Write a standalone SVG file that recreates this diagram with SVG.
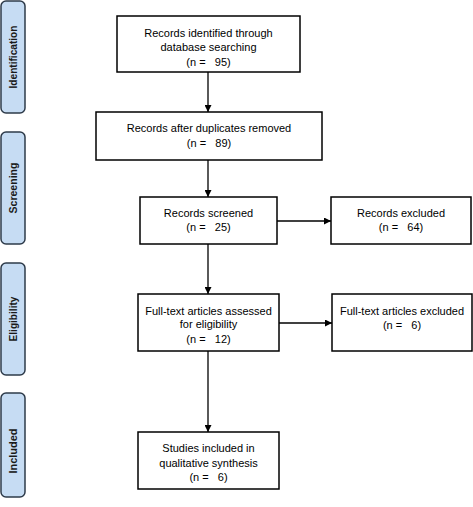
<svg xmlns="http://www.w3.org/2000/svg" width="473" height="507" viewBox="0 0 473 507">
<style>
.box{fill:#fff;stroke:#000;stroke-width:1.5}
.side{fill:#c6dcf3;stroke:#2e3b4a;stroke-width:1.5}
.t{font-family:"Liberation Sans",Arial,sans-serif;font-size:11px;fill:#000;text-anchor:middle}
.s{font-family:"Liberation Sans",Arial,sans-serif;font-size:10.5px;font-weight:bold;fill:#1a1a1a;text-anchor:middle}
.c{stroke:#000;stroke-width:1.3;fill:none;marker-end:url(#ah)}
</style>
<defs>
<marker id="ah" viewBox="0 0 10 10" refX="10" refY="5" markerWidth="7" markerHeight="7" markerUnits="userSpaceOnUse" orient="auto">
<path d="M0,0 L10,5 L0,10 z" fill="#000"/>
</marker>
</defs>
<rect width="473" height="507" fill="#fff"/>
<g id="side-identification"><rect class="side" x="1" y="1" width="24" height="112" rx="5"/><text class="s" transform="translate(17,57) rotate(-90)" textLength="63" lengthAdjust="spacingAndGlyphs">Identification</text></g>
<g id="side-screening"><rect class="side" x="1" y="132" width="24" height="112" rx="5"/><text class="s" transform="translate(17,188) rotate(-90)" textLength="51" lengthAdjust="spacingAndGlyphs">Screening</text></g>
<g id="side-eligibility"><rect class="side" x="1" y="263" width="24" height="112" rx="5"/><text class="s" transform="translate(17,319) rotate(-90)" textLength="45" lengthAdjust="spacingAndGlyphs">Eligibility</text></g>
<g id="side-included"><rect class="side" x="1" y="393" width="24" height="104" rx="5"/><text class="s" transform="translate(17,451) rotate(-90)" textLength="45" lengthAdjust="spacingAndGlyphs">Included</text></g>
<g id="connectors">
<line class="c" x1="208" y1="72" x2="208" y2="112"/>
<line class="c" x1="208" y1="160" x2="208" y2="197"/>
<line class="c" x1="277" y1="221" x2="331" y2="221"/>
<line class="c" x1="208" y1="244" x2="208" y2="294"/>
<line class="c" x1="279" y1="323" x2="332" y2="323"/>
<line class="c" x1="208" y1="351" x2="208" y2="432"/>
</g>
<g id="n1"><rect class="box" x="117" y="16" width="183" height="56"/><text class="t" x="208.5" y="37">Records identified through</text><text class="t" x="208.5" y="51">database searching</text><text class="t" x="208.5" y="66" xml:space="preserve">(n =   95)</text></g>
<g id="n2"><rect class="box" x="96" y="112" width="226" height="48"/><text class="t" x="209" y="132">Records after duplicates removed</text><text class="t" x="209" y="147" xml:space="preserve">(n =   89)</text></g>
<g id="n3"><rect class="box" x="140" y="197" width="137" height="47"/><text class="t" x="208.5" y="217">Records screened</text><text class="t" x="208.5" y="231" xml:space="preserve">(n =   25)</text></g>
<g id="n4"><rect class="box" x="331" y="197" width="140" height="47"/><text class="t" x="401" y="217">Records excluded</text><text class="t" x="401" y="231" xml:space="preserve">(n =   64)</text></g>
<g id="n5"><rect class="box" x="138" y="294" width="141" height="57"/><text class="t" x="208.5" y="315">Full-text articles assessed</text><text class="t" x="208.5" y="328">for eligibility</text><text class="t" x="208.5" y="343" xml:space="preserve">(n =   12)</text></g>
<g id="n6"><rect class="box" x="332" y="294" width="140" height="57"/><text class="t" x="402" y="315">Full-text articles excluded</text><text class="t" x="402" y="329" xml:space="preserve">(n =   6)</text></g>
<g id="n7"><rect class="box" x="138" y="432" width="141" height="57"/><text class="t" x="208.5" y="452">Studies included in</text><text class="t" x="208.5" y="467">qualitative synthesis</text><text class="t" x="208.5" y="481" xml:space="preserve">(n =   6)</text></g>
</svg>
